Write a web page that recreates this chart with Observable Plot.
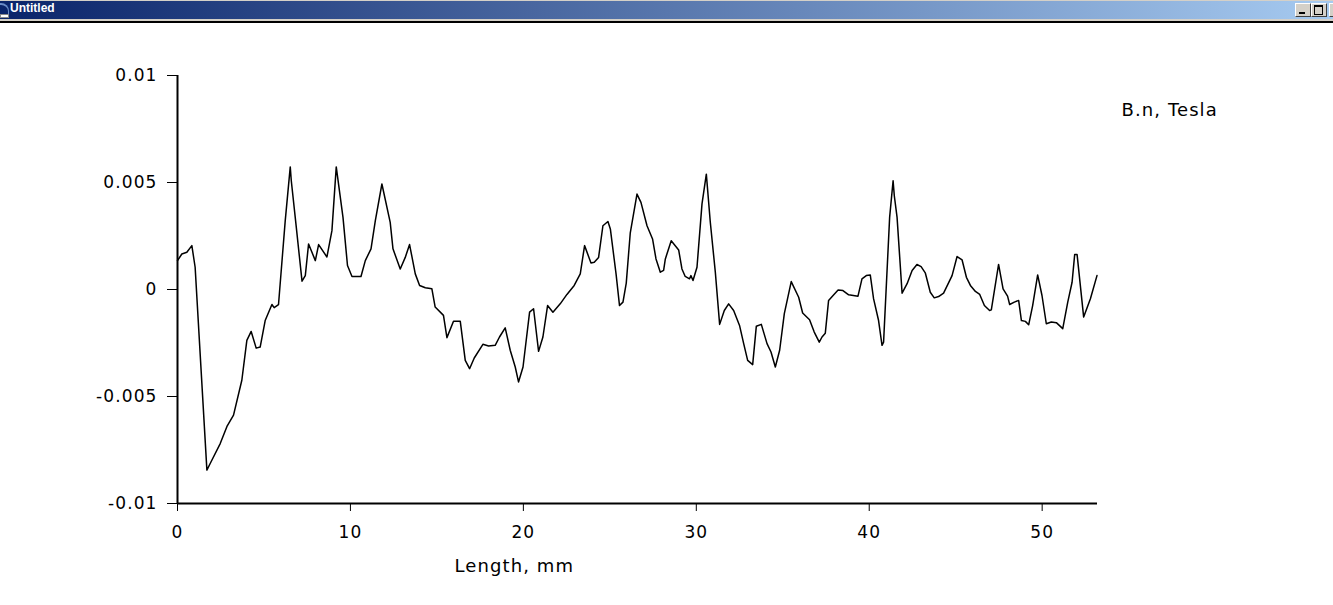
<!DOCTYPE html>
<html>
<head>
<meta charset="utf-8">
<script src="https://cdn.jsdelivr.net/npm/d3@7"></script>
<script src="https://cdn.jsdelivr.net/npm/@observablehq/plot@0.6"></script>
<style>
  html, body { margin: 0; padding: 0; background: #fff; width: 1333px; height: 605px; overflow: hidden; }
  #chart { position: absolute; left: 0; top: 0; }
  #chart svg text { letter-spacing: 1.1px; }
  #tb { position: absolute; left: 0; top: 0; width: 1333px; height: 21px; background: #d4d0c8; border-bottom: 2px solid #000; z-index: 2; }
  #bar { position: absolute; left: 0; top: 1px; width: 1333px; height: 18px; background: linear-gradient(to right, #0a246a, #a6caf0); }
  #ttl { position: absolute; left: 10px; top: 1px; line-height: 19px; font: bold 12px "Liberation Sans", Arial, sans-serif; color: #fff; }
  #icon { position: absolute; left: 0; top: 3px; width: 8px; height: 12px; border-top: 2px solid #6a8cc8; border-right: 1px solid #6a8cc8; border-radius: 0 8px 0 0; background: #0a246a; }
  #icon2 { position: absolute; left: 0; top: 14px; width: 9px; height: 4px; background: #fff; border: 1px solid #888; box-sizing: border-box; }
  .btn { position: absolute; top: 3px; width: 16px; height: 14px; background: #d4d0c8; box-sizing: border-box; border-top: 1px solid #fff; border-left: 1px solid #fff; border-right: 1px solid #404040; border-bottom: 1px solid #404040; }
  .min::after { content: ""; position: absolute; left: 3px; top: 8px; width: 6px; height: 2px; background: #000; }
  .max::after { content: ""; position: absolute; left: 2px; top: 1px; width: 7px; height: 7px; border: 1px solid #000; border-top-width: 2px; }
</style>
</head>
<body>
<div id="chart"></div>
<div id="tb">
  <div id="bar"></div>
  <div id="icon"></div><div id="icon2"></div>
  <div id="ttl">Untitled</div>
  <div class="btn min" style="left:1295px"></div>
  <div class="btn max" style="left:1311px"></div>
  <div class="btn" style="left:1329px"></div>
</div>
<script>
// Length along the scan, mm
const lengthMm = [
  0, 0.25, 0.54, 0.83, 1.02, 1.70, 1.89, 2.47, 2.86, 3.24,
  3.72, 4.01, 4.26, 4.55, 4.78, 5.07, 5.46, 5.59, 5.84, 6.23,
  6.52, 6.58, 6.87, 7.20, 7.39, 7.58, 7.97, 8.16, 8.64, 8.93,
  9.18, 9.57, 9.83, 10.09, 10.61, 10.86, 11.19, 11.44, 11.82, 12.30,
  12.46, 12.88, 13.17, 13.42, 13.75, 14.00, 14.33, 14.71, 14.90, 15.38,
  15.58, 15.96, 16.35, 16.64, 16.89, 17.16, 17.66, 17.99, 18.37, 18.62,
  18.95, 19.24, 19.53, 19.72, 19.98, 20.36, 20.59, 20.88, 21.13, 21.40,
  21.71, 22.13, 22.52, 22.94, 23.29, 23.54, 23.91, 24.10, 24.35, 24.60,
  24.89, 25.03, 25.36, 25.56, 25.76, 25.95, 26.18, 26.57, 26.80, 27.15,
  27.47, 27.67, 27.92, 28.11, 28.21, 28.55, 28.98, 29.17, 29.36, 29.61,
  29.69, 29.81, 30.04, 30.33, 30.58, 30.81, 31.10, 31.35, 31.62, 31.87,
  32.16, 32.50, 32.74, 32.97, 33.26, 33.47, 33.76, 34.09, 34.32, 34.57,
  34.82, 35.09, 35.49, 35.92, 36.15, 36.55, 36.82, 37.11, 37.27, 37.46,
  37.65, 37.91, 38.20, 38.48, 38.81, 39.35, 39.58, 39.83, 40.06, 40.25,
  40.54, 40.74, 40.83, 41.18, 41.38, 41.45, 41.61, 41.90, 42.19, 42.48,
  42.76, 43.00, 43.24, 43.53, 43.76, 44.01, 44.30, 44.79, 45.08, 45.37,
  45.62, 45.85, 46.14, 46.39, 46.66, 46.96, 47.06, 47.48, 47.74, 48.00,
  48.12, 48.39, 48.64, 48.80, 49.03, 49.22, 49.45, 49.74, 49.99, 50.24,
  50.53, 50.82, 51.19, 51.48, 51.73, 51.88, 52.02, 52.40, 52.79, 53.17
];
// B.n, Tesla
const bnTesla = [
  0.00135, 0.00166, 0.00174, 0.00205, 0.00104, -0.00844, -0.00813, -0.0072, -0.0064, -0.00587,
  -0.00424, -0.00238, -0.00196, -0.00274, -0.00269, -0.00145, -0.0007, -0.00085, -0.00071, 0.00322,
  0.00573, 0.00508, 0.0029, 0.00039, 0.00065, 0.00213, 0.00135, 0.0021, 0.00152, 0.00275,
  0.00573, 0.00337, 0.00112, 0.00061, 0.00061, 0.00135, 0.0019, 0.00322, 0.00493, 0.00314,
  0.0019, 0.00096, 0.0015, 0.0021, 0.00073, 0.00019, 0.00008, 0.00003, -0.00082, -0.00121,
  -0.00225, -0.00148, -0.00148, -0.00331, -0.0037, -0.0032, -0.00256, -0.00264, -0.00261, -0.00222,
  -0.00179, -0.00284, -0.00362, -0.00432, -0.00362, -0.00106, -0.0009, -0.00289, -0.00222, -0.00075,
  -0.00106, -0.00067, -0.00023, 0.00019, 0.00073, 0.00205, 0.00124, 0.00127, 0.0015, 0.00298,
  0.00318, 0.00283, 0.00073, -0.00075, -0.00059, 0.0003, 0.00263, 0.00446, 0.00407, 0.00298,
  0.00236, 0.00143, 0.00081, 0.00089, 0.00143, 0.00228, 0.00185, 0.00096, 0.00061, 0.0005,
  0.00065, 0.00042, 0.00104, 0.004, 0.00539, 0.00314, 0.00081, -0.00163, -0.00098, -0.00067,
  -0.00098, -0.00168, -0.00253, -0.00331, -0.00351, -0.00172, -0.00163, -0.00253, -0.00292, -0.00362,
  -0.00284, -0.00113, 0.00037, -0.00036, -0.0011, -0.00141, -0.00199, -0.00246, -0.00222, -0.00204,
  -0.00051, -0.00028, -0.00002, -0.00005, -0.00025, -0.00031, 0.0005, 0.00065, 0.00068, -0.00043,
  -0.00145, -0.00261, -0.00246, 0.00337, 0.00508, 0.00438, 0.00337, -0.00017, 0.00027, 0.00089,
  0.00117, 0.00107, 0.00078, -0.00013, -0.00039, -0.00033, -0.00017, 0.00065, 0.00154, 0.00138,
  0.00057, 0.00019, -0.00009, -0.00023, -0.00075, -0.00098, -0.00095, 0.00117, 0.00003, -0.00031,
  -0.0007, -0.00059, -0.00051, -0.00145, -0.00149, -0.00165, -0.00075, 0.00068, -0.00028, -0.0016,
  -0.00152, -0.00155, -0.00183, -0.00059, 0.00034, 0.00163, 0.00163, -0.00129, -0.00043, 0.00065
];
const xTicks = [0, 10, 20, 30, 40, 50];
const yTicks = [-0.01, -0.005, 0, 0.005, 0.01];
const yTickLabels = ["-0.01", "-0.005", "0", "0.005", "0.01"];
const xDomain = [0, 53.2];
const yDomain = [-0.01, 0.01];
const xLabel = ["Length, mm"];
const seriesLabel = ["B.n, Tesla"];

const data = lengthMm.map((x, i) => ({x, y: bnTesla[i]}));

const chart = Plot.plot({
  width: 1333,
  height: 605,
  marginLeft: 177,
  marginRight: 236,
  marginTop: 75,
  marginBottom: 102,
  style: {fontFamily: "'DejaVu Sans', Verdana, sans-serif", fontSize: "17px", color: "#000", background: "#fff"},
  x: {domain: xDomain},
  y: {domain: yDomain},
  marks: [
    Plot.axisX({ticks: xTicks, tickSize: 8, tickPadding: 14, label: null, tickFormat: d => String(d)}),
    Plot.axisY({ticks: yTicks, tickSize: 10, tickPadding: 10, label: null, tickFormat: d => yTickLabels[yTicks.indexOf(d)]}),
    Plot.ruleX([xDomain[0]], {stroke: "#000", strokeWidth: 2}),
    Plot.ruleY([yDomain[0]], {stroke: "#000", strokeWidth: 2}),
    Plot.line(data, {x: "x", y: "y", stroke: "#000", strokeWidth: 1.5}),
    Plot.text(seriesLabel, {text: d => d, frameAnchor: "top-right", textAnchor: "start", lineAnchor: "middle", dx: 24, dy: 35, fill: "#000", fontSize: 18}),
    Plot.text(xLabel, {text: d => d, frameAnchor: "bottom-left", textAnchor: "start", lineAnchor: "middle", dx: 277, dy: 63, fill: "#000", fontSize: 18})
  ]
});
document.getElementById("chart").appendChild(chart);
</script>
</body>
</html>
